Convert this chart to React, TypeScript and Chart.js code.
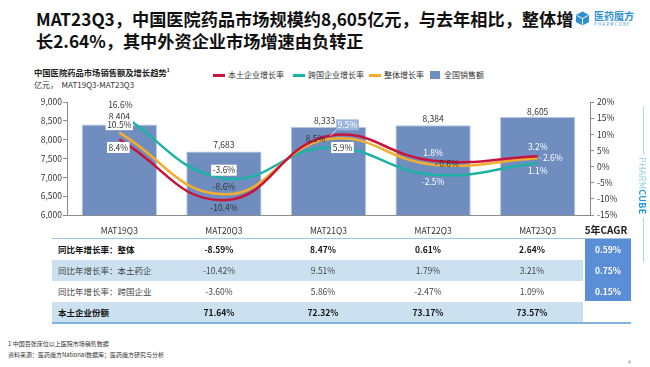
import React, { useEffect, useRef } from "react";
import { Chart, registerables } from "chart.js";

Chart.register(...registerables);

const FONT = "'Noto Sans CJK SC', 'Noto Sans', sans-serif";

// ---- data ----
const categories = ["MAT19Q3", "MAT20Q3", "MAT21Q3", "MAT22Q3", "MAT23Q3"];
const sales = [8404, 7683, 8333, 8384, 8605];
const localGrowth = [8.4, -10.4, 9.5, 1.8, 3.2];
const mncGrowth = [16.6, -3.6, 5.9, -2.5, 1.1];
const overallGrowth = [10.5, -8.6, 8.5, 0.6, 2.6];

const leftTicks = { min: 6000, max: 9000, step: 500 };
const rightTicks = { min: -15, max: 20, step: 5 };

const tableRowLabels = ["同比年增长率：整体", "同比年增长率：本土药企", "同比年增长率：跨国企业", "本土企业份额"];
const rowOverall = ["-8.59%", "8.47%", "0.61%", "2.64%"];
const rowLocal = ["-10.42%", "9.51%", "1.79%", "3.21%"];
const rowMnc = ["-3.60%", "5.86%", "-2.47%", "1.09%"];
const rowShare = ["71.64%", "72.32%", "73.17%", "73.57%"];
const cagrValues = ["0.59%", "0.75%", "0.15%"];

// ---- label placement (style only) ----
const salesLabelPlace: [number, number][] = [[0, -8], [0, -7], [-4, -6], [0, -6], [0, -5]];
type Place = [number, number, string, boolean?];
const localPlace: Place[] = [[-1, 8, "boxed"], [0, 8, "plain"], [19, -11, "tag", true], [0, -8, "light"], [0, -9, "light"]];
const mncPlace: Place[] = [[1, -8, "plain"], [0, -8, "boxed"], [14, 0, "boxed"], [0, 7, "light"], [0, 8, "light"]];
const overallPlace: Place[] = [[0, -8, "boxed"], [0, -8, "plain"], [-13, 0, "plain"], [16, -1, "plain", true], [15, 0, "light", true]];

const RED = "#C8143C";
const TEAL = "#1CB2A4";
const ORANGE = "#F5AE2C";
const BAR = "#6F8EBF";

const labelPlugin = {
  id: "valueLabels",
  afterDatasetsDraw(chart: any) {
    const ctx = chart.ctx;
    ctx.save();
    ctx.font = `8.5px ${FONT}`;
    ctx.textAlign = "center";
    ctx.textBaseline = "middle";
    const barMeta = chart.getDatasetMeta(3);
    barMeta.data.forEach((el: any, i: number) => {
      const [dx, dy] = salesLabelPlace[i];
      const text = sales[i].toLocaleString("en-US");
      const w = ctx.measureText(text).width;
      ctx.fillStyle = "#ffffff";
      ctx.fillRect(el.x + dx - w / 2 - 1, el.y + dy - 4.5, w + 2, 9);
      ctx.fillStyle = "#333";
      ctx.fillText(text, el.x + dx, el.y + dy);
    });
    const series = [
      { index: 0, values: localGrowth, places: localPlace },
      { index: 1, values: mncGrowth, places: mncPlace },
      { index: 2, values: overallGrowth, places: overallPlace },
    ];
    series.forEach(({ index, values, places }) => {
      const meta = chart.getDatasetMeta(index);
      meta.data.forEach((pt: any, i: number) => {
        const [dx, dy, style, leader] = places[i];
        const text = values[i].toFixed(1) + "%";
        const x = pt.x + dx;
        const y = pt.y + dy;
        const w = ctx.measureText(text).width;
        const light = style === "light" || style === "tag";
        if (leader) {
          ctx.strokeStyle = light ? "#ffffff" : "#333";
          ctx.lineWidth = 0.8;
          ctx.beginPath();
          const sx = pt.x + Math.sign(dx) * 2;
          const ex = x - Math.sign(dx) * (w / 2 + 1.5);
          const ey = dy < -4 ? y + 5 : y;
          ctx.moveTo(sx, pt.y);
          ctx.lineTo(ex, ey);
          ctx.stroke();
        }
        if (style === "boxed") {
          ctx.fillStyle = "#ffffff";
          ctx.fillRect(x - w / 2 - 1.5, y - 5.5, w + 3, 11);
        } else if (style === "tag") {
          ctx.fillStyle = "#9CB3DB";
          ctx.fillRect(x - w / 2 - 1.5, y - 5.5, w + 3, 11);
        }
        ctx.fillStyle = light ? "#ffffff" : "#333";
        ctx.fillText(text, x, y);
      });
    });
    ctx.restore();
  },
};

function ChartCanvas() {
  const ref = useRef<HTMLCanvasElement>(null);
  useEffect(() => {
    if (!ref.current) return;
    const tickFont = { family: FONT, size: 8.5 };
    const lineCommon = { type: "line" as const, yAxisID: "y1", borderWidth: 2.5, pointRadius: 0, tension: 0.45, fill: false };
    const chart = new Chart(ref.current, {
      type: "bar",
      data: {
        labels: categories,
        datasets: [
          { ...lineCommon, label: "本土企业增长率", data: localGrowth, borderColor: RED, backgroundColor: RED, order: 1 },
          { ...lineCommon, label: "跨国企业增长率", data: mncGrowth, borderColor: TEAL, backgroundColor: TEAL, order: 3 },
          { ...lineCommon, label: "整体增长率", data: overallGrowth, borderColor: ORANGE, backgroundColor: ORANGE, order: 2 },
          {
            type: "bar",
            label: "全国销售额",
            data: sales,
            yAxisID: "y",
            backgroundColor: BAR,
            borderColor: "#B3C5E2",
            borderWidth: 1,
            barPercentage: 0.72,
            categoryPercentage: 1,
            order: 10,
          },
        ] as any,
      },
      options: {
        animation: false,
        responsive: false,
        devicePixelRatio: 1,
        layout: { padding: { top: 102, left: 0, right: 20, bottom: 0 } },
        plugins: { legend: { display: false }, tooltip: { enabled: false } },
        scales: {
          x: {
            grid: { display: false },
            border: { display: true, color: "#8c8c8c" },
            ticks: { font: tickFont, color: "#333", padding: 3 },
            afterFit: (s: any) => { s.height = 20; },
          },
          y: {
            position: "left",
            min: leftTicks.min,
            max: leftTicks.max,
            ticks: {
              stepSize: leftTicks.step,
              font: tickFont,
              color: "#333",
              padding: 1,
              callback: (v: any) => Number(v).toLocaleString("en-US"),
            },
            grid: { drawOnChartArea: false, drawTicks: true, tickLength: 4, color: "#8c8c8c" },
            border: { display: true, color: "#8c8c8c" },
            afterFit: (s: any) => { s.width = 67; },
          },
          y1: {
            position: "right",
            min: rightTicks.min,
            max: rightTicks.max,
            ticks: {
              stepSize: rightTicks.step,
              font: tickFont,
              color: "#333",
              padding: 3,
              callback: (v: any) => v + "%",
            },
            grid: { drawOnChartArea: false, drawTicks: true, tickLength: 4, color: "#8c8c8c" },
            border: { display: true, color: "#8c8c8c" },
            afterFit: (s: any) => { s.width = 40; },
          },
        },
      } as any,
      plugins: [labelPlugin],
    });
    return () => chart.destroy();
  }, []);
  return <canvas ref={ref} width={650} height={235} style={{ position: "absolute", left: 0, top: 0, width: 650, height: 235 }} />;
}

const abs = (s: React.CSSProperties): React.CSSProperties => ({ position: "absolute", ...s });

function Legend() {
  const items = [
    { label: "本土企业增长率", color: RED, kind: "line", x: 213 },
    { label: "跨国企业增长率", color: TEAL, kind: "line", x: 293 },
    { label: "整体增长率", color: ORANGE, kind: "line", x: 369 },
    { label: "全国销售额", color: BAR, kind: "box", x: 430 },
  ];
  return (
    <>
      {items.map((it) => (
        <React.Fragment key={it.label}>
          {it.kind === "line" ? (
            <div style={abs({ left: it.x, top: 74, width: 12, height: 2.5, background: it.color })} />
          ) : (
            <div style={abs({ left: it.x, top: 71, width: 10, height: 8, background: it.color })} />
          )}
          <div style={abs({ left: it.x + (it.kind === "line" ? 15 : 14), top: 69, fontSize: 8, lineHeight: "12px", color: "#333", whiteSpace: "nowrap" })}>{it.label}</div>
        </React.Fragment>
      ))}
    </>
  );
}

function Table() {
  const rowTops = [239, 260, 281, 302];
  const rowH = 21;
  const colCenters = [219, 323, 428, 532];
  const rows = [rowOverall, rowLocal, rowMnc, rowShare];
  const bold = [true, false, false, true];
  return (
    <>
      <div style={abs({ left: 52, top: 237.5, width: 579, height: 1.5, background: "#9DC3E6" })} />
      {[1, 3].map((r) => (
        <div key={r} style={abs({ left: 52, top: rowTops[r], width: 531, height: rowH, background: "#CCE1F0" })} />
      ))}
      <div style={abs({ left: 585, top: 239, width: 46, height: 62, background: "#5A8ED6" })} />
      <div style={abs({ left: 52, top: 322, width: 579, height: 2, background: "#7FB2DE" })} />
      <div style={abs({ left: 583, top: 223, width: 46, textAlign: "center", fontSize: 10, fontWeight: 700, color: "#222", lineHeight: "14px" })}>5年CAGR</div>
      {tableRowLabels.map((lab, r) => (
        <React.Fragment key={lab}>
          <div style={abs({ left: 58, top: rowTops[r], height: rowH, lineHeight: rowH + "px", fontSize: 8.5, fontWeight: bold[r] ? 700 : 400, color: bold[r] ? "#111" : "#444", whiteSpace: "nowrap" })}>{lab}</div>
          {rows[r].map((v, c) => (
            <div key={c} style={abs({ left: colCenters[c] - 40, width: 80, top: rowTops[r], height: rowH, lineHeight: rowH + "px", textAlign: "center", fontSize: 8.5, fontWeight: bold[r] ? 700 : 400, color: bold[r] ? "#111" : "#444" })}>{v}</div>
          ))}
          {r < 3 && (
            <div style={abs({ left: 585, width: 46, top: rowTops[r], height: rowH, lineHeight: rowH + "px", textAlign: "center", fontSize: 8.5, fontWeight: 700, color: "#fff" })}>{cagrValues[r]}</div>
          )}
        </React.Fragment>
      ))}
    </>
  );
}

function Logo() {
  return (
    <>
      <svg style={abs({ left: 575, top: 11 })} width={15} height={15} viewBox="0 0 15 15">
        <polygon points="7.5,0.5 14,4 14,11 7.5,14.5 1,11 1,4" fill="#2C8ED6" />
        <polyline points="1.8,4.4 7.5,7.5 13.2,4.4" fill="none" stroke="#fff" strokeWidth={1} />
        <line x1={7.5} y1={7.5} x2={7.5} y2={14} stroke="#fff" strokeWidth={1} />
      </svg>
      <div style={abs({ left: 594, top: 10, fontSize: 10, lineHeight: "12px", color: "#2C8ED6", fontWeight: 700, letterSpacing: 0 })}>医药魔方</div>
      <div style={abs({ left: 594, top: 22, fontSize: 4.2, lineHeight: "5px", color: "#2C8ED6", letterSpacing: 1.3 })}>PHARMCUBE</div>
    </>
  );
}

export default function App() {
  return (
    <div style={{ position: "fixed", left: 0, top: 0, width: 650, height: 367, background: "#fff", fontFamily: FONT, overflow: "hidden" }}>
      <div style={abs({ left: 36, top: 8, fontSize: 17.2, fontWeight: 700, lineHeight: "22px", color: "#111", width: 545 })}>
        MAT23Q3，中国医院药品市场规模约8,605亿元，与去年相比，整体增
        <br />
        长2.64%，其中外资企业市场增速由负转正
      </div>
      <Logo />
      <div style={abs({ left: 34, top: 66, fontSize: 8.3, fontWeight: 700, color: "#222", lineHeight: "12px", whiteSpace: "nowrap" })}>
        中国医院药品市场销售额及增长趋势<span style={{ fontSize: 5, verticalAlign: "top", lineHeight: "8px" }}>1</span>
      </div>
      <div style={abs({ left: 34, top: 79, fontSize: 8, color: "#333", lineHeight: "12px", whiteSpace: "nowrap" })}>亿元，&nbsp;&nbsp;MAT19Q3-MAT23Q3</div>
      <Legend />
      <ChartCanvas />
      <Table />
      {/* right decoration */}
      <div style={abs({ left: 642.5, top: 107, width: 1, height: 48, background: "#A9D9EA" })} />
      <div style={abs({ left: 636, top: 157, writingMode: "vertical-rl", fontSize: 9, lineHeight: "13px", letterSpacing: 0.3, whiteSpace: "nowrap" })}>
        <span style={{ color: "#8FD0E6" }}>PHARM</span>
        <span style={{ color: "#1E9BD7", fontWeight: 700 }}>CUBE</span>
      </div>
      <div style={abs({ left: 642.5, top: 217, width: 1, height: 45, background: "#A9D9EA" })} />
      <div style={abs({ left: 8, top: 339, fontSize: 6, lineHeight: "9px", color: "#333", whiteSpace: "nowrap" })}>1 中国百张床位以上医院市场销售数据</div>
      <div style={abs({ left: 8, top: 350, fontSize: 6, lineHeight: "9px", color: "#333", whiteSpace: "nowrap" })}>资料来源：医药魔方National数据库；医药魔方研究与分析</div>
      <div style={abs({ left: 628, top: 358, fontSize: 5, color: "#888" })}>4</div>
    </div>
  );
}
